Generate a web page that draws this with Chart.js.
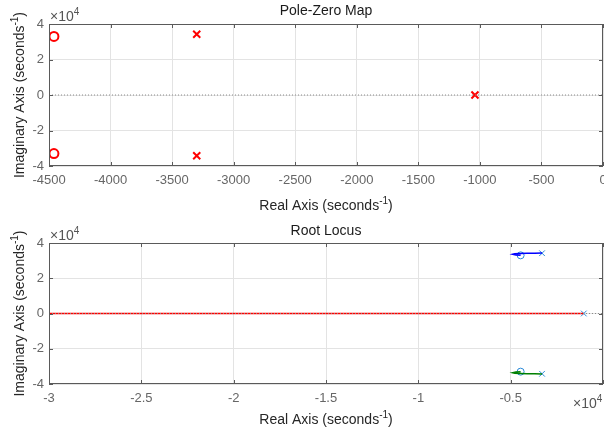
<!DOCTYPE html>
<html>
<head>
<meta charset="utf-8">
<script src="https://cdn.jsdelivr.net/npm/chart.js@4"></script>
<style>
  body { margin: 0; background: #fff; }
  #wrap { position: relative; width: 604px; height: 434px; }
  canvas { position: absolute; left: 0; }
</style>
</head>
<body>
<div id="wrap">
  <canvas id="pz" width="604" height="217" style="top:0"></canvas>
  <canvas id="rl" width="604" height="217" style="top:217px"></canvas>
</div>
<script>
// pole-zero map values
const pzZeroRe = [-4460, -4460]
const pzZeroIm = [33000, -33000]
const pzPoleRe = [-3300, -3300, -1040]
const pzPoleIm = [34200, -34200, 0]
const pzXTicks = [-4500, -4000, -3500, -3000, -2500, -2000, -1500, -1000, -500, 0]

// root locus branches
const rlRealRe = [-30000, -1040]
const rlRealIm = [0, 0]
const rlUpperRe = [-3300, -3700, -4100, -4500, -4780, -4880, -4720, -4460]
const rlUpperIm = [34300, 34250, 34150, 34000, 33850, 33600, 33250, 33000]
const rlLowerRe = [-3300, -3700, -4100, -4500, -4780, -4880, -4720, -4460]
const rlLowerIm = [-34300, -34250, -34150, -34000, -33850, -33600, -33250, -33000]
const rlXTicks = [-30000, -25000, -20000, -15000, -10000, -5000, 0]

const yTicks = [-40000, -20000, 0, 20000, 40000]

const FONT = '"Liberation Sans", Arial, sans-serif'
const pts = (xs, ys) => xs.map((v, i) => ({x: v, y: ys[i]}))

function drawSup(ctx, pre, sup, post, cx, cy) {
    ctx.font = "14px " + FONT
    const w1 = ctx.measureText(pre).width
    const w3 = ctx.measureText(post).width
    ctx.font = "10px " + FONT
    const w2 = ctx.measureText(sup).width
    let x = cx - (w1 + w2 + w3) / 2
    ctx.textAlign = "left"
    ctx.textBaseline = "middle"
    ctx.font = "14px " + FONT
    ctx.fillText(pre, x, cy)
    x += w1
    ctx.font = "10px " + FONT
    ctx.fillText(sup, x, cy - 5)
    x += w2
    ctx.font = "14px " + FONT
    ctx.fillText(post, x, cy)
}

function drawExp(ctx, x, base) {
    ctx.textAlign = "left"
    ctx.textBaseline = "alphabetic"
    ctx.font = "14px " + FONT
    ctx.fillText("\u00d710", x, base)
    const w = ctx.measureText("\u00d710").width
    ctx.font = "10px " + FONT
    ctx.fillText("4", x + w, base - 6)
}

const deco = {
    id: "deco",
    afterDraw(chart, args, o) {
        const {ctx, chartArea: a, scales: {x, y}} = chart
        ctx.save()
        ctx.strokeStyle = "#5a5a5a"
        ctx.lineWidth = 1
        ctx.strokeRect(a.left + 0.5, a.top + 0.5, a.width - 1, a.height - 1)
        ctx.beginPath()
        x.ticks.forEach(t => {
            const px = Math.round(x.getPixelForValue(t.value)) + 0.5
            ctx.moveTo(px, a.top); ctx.lineTo(px, a.top + 4)
            ctx.moveTo(px, a.bottom); ctx.lineTo(px, a.bottom - 4)
        })
        y.ticks.forEach(t => {
            const py = Math.round(y.getPixelForValue(t.value)) + 0.5
            ctx.moveTo(a.left, py); ctx.lineTo(a.left + 4, py)
            ctx.moveTo(a.right, py); ctx.lineTo(a.right - 4, py)
        })
        ctx.stroke()

        ctx.fillStyle = "#1a1a1a"
        ctx.font = "14px " + FONT
        ctx.textAlign = "center"
        ctx.textBaseline = "middle"
        ctx.fillText(o.title, (a.left + a.right) / 2, o.titleY)

        ctx.fillStyle = "#262626"
        drawSup(ctx, "Real Axis (seconds", "-1", ")", (a.left + a.right) / 2, o.xLabelY)

        ctx.fillStyle = "#555"
        drawExp(ctx, a.left + 1, a.top - 3)
        if (o.xExp) drawExp(ctx, o.xExp[0], o.xExp[1])

        ctx.fillStyle = "#262626"
        ctx.translate(20, (a.top + a.bottom) / 2)
        ctx.rotate(-Math.PI / 2)
        drawSup(ctx, "Imaginary Axis (seconds", "-1", ")", 0, 0)
        ctx.restore()
    }
}

function scales(xTicks, xFmt, xHeight) {
    const tickFont = {family: FONT, size: 13}
    return {
        x: {
            type: "linear",
            min: xTicks[0],
            max: xTicks[xTicks.length - 1],
            afterBuildTicks: s => { s.ticks = xTicks.map(v => ({value: v})) },
            ticks: {color: "#666", font: tickFont, padding: 7, maxRotation: 0, autoSkip: false, callback: xFmt},
            grid: {color: "#e3e3e3", drawTicks: false},
            border: {display: false},
            afterFit: s => { s.height = xHeight; s.paddingLeft = 0; s.paddingRight = 0 }
        },
        y: {
            type: "linear",
            min: yTicks[0],
            max: yTicks[yTicks.length - 1],
            afterBuildTicks: s => { s.ticks = yTicks.map(v => ({value: v})) },
            ticks: {color: "#666", font: tickFont, padding: 5, autoSkip: false, callback: v => String(v / 1e4)},
            grid: {color: "#e3e3e3", drawTicks: false},
            border: {display: false},
            afterFit: s => { s.width = 49; s.paddingTop = 0; s.paddingBottom = 0 }
        }
    }
}

const common = {
    responsive: false,
    animation: false,
    devicePixelRatio: 1,
    events: []
}

new Chart("pz", {
    type: "scatter",
    data: {
        datasets: [
            {data: pts([pzXTicks[0], pzXTicks[pzXTicks.length - 1]], [0, 0]), showLine: true,
             borderColor: "#8a8a8a", borderWidth: 1, borderDash: [1, 2], pointRadius: 0},
            {data: pts(pzZeroRe, pzZeroIm), pointStyle: "circle", pointRadius: 4.5,
             borderColor: "#ff0000", backgroundColor: "rgba(0,0,0,0)", borderWidth: 2},
            {data: pts(pzPoleRe, pzPoleIm), pointStyle: "crossRot", pointRadius: 5,
             borderColor: "#ff0000", borderWidth: 2}
        ]
    },
    options: {
        ...common,
        layout: {autoPadding: false, padding: {top: 24, right: 1, left: 0, bottom: 0}},
        scales: scales(pzXTicks, v => String(v), 51),
        plugins: {
            legend: {display: false},
            tooltip: {enabled: false},
            deco: {title: "Pole-Zero Map", titleY: 11, xLabelY: 206}
        }
    },
    plugins: [deco]
})

const markColor = "#2a8ad8"
new Chart("rl", {
    type: "scatter",
    data: {
        datasets: [
            {data: pts([rlXTicks[0], rlXTicks[rlXTicks.length - 1]], [0, 0]), showLine: true,
             borderColor: "#8a8a8a", borderWidth: 1, borderDash: [1, 2], pointRadius: 0},
            {data: pts(rlRealRe, rlRealIm), showLine: true, borderColor: "#ff0000", borderWidth: 1.5, pointRadius: 0},
            {data: pts(rlUpperRe, rlUpperIm), showLine: true, borderColor: "#0000ff", borderWidth: 1.5, pointRadius: 0},
            {data: pts(rlLowerRe, rlLowerIm), showLine: true, borderColor: "#008000", borderWidth: 1.5, pointRadius: 0},
            {data: pts(pzPoleRe, pzPoleIm), pointStyle: "crossRot", pointRadius: 4,
             borderColor: markColor, borderWidth: 1},
            {data: pts(pzZeroRe, pzZeroIm), pointStyle: "circle", pointRadius: 3.5,
             borderColor: markColor, backgroundColor: "rgba(0,0,0,0)", borderWidth: 1}
        ]
    },
    options: {
        ...common,
        layout: {autoPadding: false, padding: {top: 26, right: 1, left: 0, bottom: 0}},
        scales: scales(rlXTicks, v => v === 0 ? "" : String(v / 1e4), 50),
        plugins: {
            legend: {display: false},
            tooltip: {enabled: false},
            deco: {title: "Root Locus", titleY: 14, xLabelY: 203, xExp: [573, 191]}
        }
    },
    plugins: [deco]
})
</script>
</body>
</html>
